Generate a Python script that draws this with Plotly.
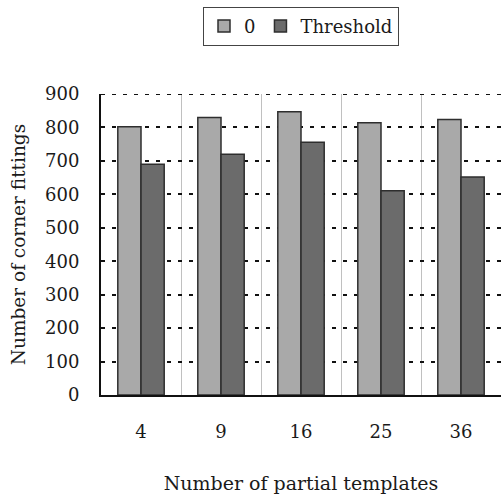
import plotly.graph_objects as go

# Corner-fitting counts per number of partial templates
templates = ["4", "9", "16", "25", "36"]
fit_zero = [802, 830, 847, 814, 824]
fit_threshold = [690, 720, 756, 611, 652]
y_ticks = [0, 100, 200, 300, 400, 500, 600, 700, 800, 900]
y_top = y_ticks[-1]

FONT = "DejaVu Serif"
INK = "#1a1a1a"
bar_line = dict(color="#2e2e2e", width=1.5)

fig = go.Figure()
fig.add_trace(go.Bar(x=templates, y=fit_zero, name="0",
                     marker=dict(color="#a9a9a9", line=bar_line)))
fig.add_trace(go.Bar(x=templates, y=fit_threshold, name="Threshold",
                     marker=dict(color="#6b6b6b", line=bar_line)))

# dotted rule along the top of the plot area (same style as the gridlines)
fig.add_shape(type="line", xref="paper", yref="y", x0=0, x1=1, y0=y_top, y1=y_top,
              line=dict(color="#111", width=2, dash="4px,7px"), layer="above")

fig.update_layout(
    width=501, height=494,
    margin=dict(l=101, r=0, t=94, b=99, autoexpand=False),
    paper_bgcolor="white", plot_bgcolor="white",
    barmode="group", bargap=0.42, bargroupgap=0,
    font=dict(family=FONT, size=18, color=INK),
    showlegend=True,
    legend=dict(orientation="h", x=0.5, xanchor="center", y=1.29, yanchor="top",
                xref="paper", yref="paper",
                bordercolor="#444", borderwidth=1, bgcolor="white",
                font=dict(family=FONT, size=18, color=INK), itemwidth=30,
                traceorder="normal"),
    xaxis=dict(
        type="category", tickson="boundaries",
        showgrid=True, gridcolor="#c0c0c0", gridwidth=1,
        showline=True, linecolor="#111", linewidth=2,
        ticks="", ticklabelstandoff=19,
        tickfont=dict(family=FONT, size=18, color=INK),
        title=dict(text="Number of partial templates", standoff=36,
                   font=dict(family=FONT, size=19, color=INK)),
    ),
    yaxis=dict(
        range=[0, y_top], tickvals=y_ticks,
        showgrid=True, gridcolor="#111", gridwidth=2, griddash="4px,7px",
        showline=True, linecolor="#111", linewidth=2,
        zeroline=False, ticks="", ticklabelstandoff=16,
        tickfont=dict(family=FONT, size=18, color=INK),
        title=dict(text="Number of corner fittings", standoff=15,
                   font=dict(family=FONT, size=18.5, color=INK)),
    ),
)

fig.write_html("out.html")
